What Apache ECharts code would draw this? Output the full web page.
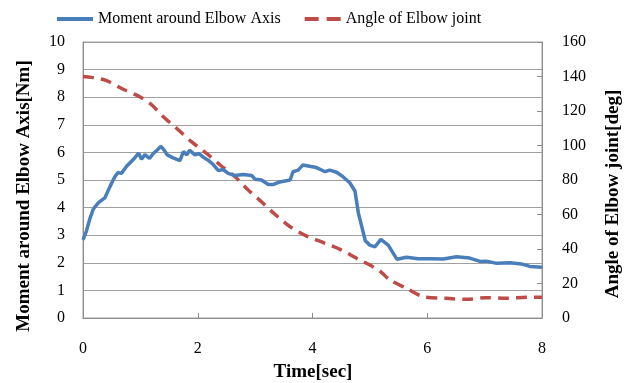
<!DOCTYPE html>
<html><head><meta charset="utf-8">
<script src="https://cdn.jsdelivr.net/npm/echarts@6/dist/echarts.min.js"></script>
<style>html,body{margin:0;padding:0;background:#fff}#c{width:628px;height:383px}</style>
</head><body><div id="c"></div>
<script>
const seriesNames = ['Moment around Elbow Axis', 'Angle of Elbow joint'];
const xTicks = [0, 2, 4, 6, 8];
const momentData = [
[0,2.83],[0.06,3.15],[0.12,3.6],[0.18,3.95],[0.27,4.18],[0.38,4.35],[0.47,4.76],[0.55,5.1],[0.61,5.27],[0.67,5.24],[0.76,5.5],[0.88,5.75],[0.97,5.97],[1.02,5.75],[1.08,5.92],[1.16,5.78],[1.22,5.95],[1.28,6.06],[1.36,6.22],[1.40,6.12],[1.47,5.91],[1.57,5.8],[1.69,5.7],[1.75,6.03],[1.81,5.91],[1.86,6.08],[1.95,5.91],[2.02,5.96],[2.10,5.82],[2.18,5.72],[2.27,5.56],[2.36,5.34],[2.44,5.38],[2.53,5.24],[2.65,5.16],[2.79,5.2],[2.94,5.16],[3.0,5.03],[3.11,5.0],[3.23,4.84],[3.32,4.84],[3.43,4.93],[3.61,5.0],[3.66,5.3],[3.75,5.36],[3.83,5.54],[3.95,5.5],[4.07,5.45],[4.22,5.3],[4.30,5.36],[4.42,5.28],[4.53,5.12],[4.65,4.9],[4.74,4.6],[4.80,3.8],[4.86,3.3],[4.92,2.8],[5.0,2.64],[5.09,2.58],[5.19,2.85],[5.32,2.64],[5.47,2.13],[5.64,2.2],[5.84,2.15],[6.05,2.15],[6.28,2.14],[6.51,2.22],[6.74,2.17],[6.92,2.05],[7.03,2.06],[7.21,1.98],[7.44,2.0],[7.64,1.96],[7.79,1.87],[8.0,1.84]
];
const angleData = [
[0,140],[0.15,139.5],[0.41,137.6],[0.70,132.6],[0.99,128.3],[1.20,123.5],[1.40,116.7],[1.63,110],[1.89,102.2],[2.15,95.5],[2.39,88.7],[2.65,81.9],[2.88,74.2],[3.11,67.4],[3.34,60.3],[3.61,52.9],[3.90,47.5],[4.19,43.7],[4.48,39.8],[4.77,34.6],[5.06,29.6],[5.2,26.5],[5.35,22],[5.64,17.2],[5.93,12.4],[6.34,11.4],[6.68,10.8],[7.03,11.8],[7.38,11.4],[7.73,12],[8.0,12]
];
const leftAxisName = 'Moment around Elbow Axis[Nm]';
const rightAxisName = 'Angle of Elbow joint[deg]';
const xAxisName = 'Time[sec]';

const FONT = '"Liberation Serif", "Times New Roman", serif';
const chart = echarts.init(document.getElementById('c'));
chart.setOption({
  animation: false,
  backgroundColor: '#fff',
  grid: {left: 83, right: 86, top: 42, bottom: 65, show: true, borderColor: '#a0a0a0', borderWidth: 1},
  legend: {
    left: 50, top: 6, itemWidth: 36, itemHeight: 14, itemGap: 22,
    itemStyle: {opacity: 0},
    textStyle: {fontFamily: FONT, fontSize: 16, color: '#000'},
    data: [
      {name: seriesNames[0], lineStyle: {width: 4}},
      {name: seriesNames[1], lineStyle: {width: 4, type: [14, 8, 14, 20]}}
    ]
  },
  graphic: [
    {type: 'text', x: 24, y: 196, rotation: Math.PI/2, style: {text: leftAxisName, font: 'bold 19px ' + FONT, fill: '#000', textAlign: 'center', textVerticalAlign: 'middle'}},
    {type: 'text', x: 613, y: 194, rotation: Math.PI/2, style: {text: rightAxisName, font: 'bold 19px ' + FONT, fill: '#000', textAlign: 'center', textVerticalAlign: 'middle'}},
    {type: 'text', x: 313, y: 372, style: {text: xAxisName, font: 'bold 19px ' + FONT, fill: '#000', textAlign: 'center', textVerticalAlign: 'middle'}}
  ],
  xAxis: {
    type: 'value', min: xTicks[0], max: xTicks[xTicks.length-1], interval: 2,
    axisLine: {lineStyle: {color: '#8c8c8c'}},
    axisTick: {inside: true, length: 5, lineStyle: {color: '#8c8c8c'}},
    axisLabel: {fontFamily: FONT, fontSize: 16, color: '#000', margin: 23},
    splitLine: {show: false}
  },
  yAxis: [
    {type: 'value', min: 0, max: 10, interval: 1,
     axisLine: {show: true, lineStyle: {color: '#8c8c8c'}},
     axisTick: {show: false},
     axisLabel: {fontFamily: FONT, fontSize: 16, color: '#000', margin: 18},
     splitLine: {show: true, lineStyle: {color: '#a0a0a0'}}},
    {type: 'value', min: 0, max: 160, interval: 20, position: 'right',
     axisLine: {show: true, lineStyle: {color: '#8c8c8c'}},
     axisTick: {show: true, inside: true, length: 5, lineStyle: {color: '#8c8c8c'}},
     axisLabel: {fontFamily: FONT, fontSize: 16, color: '#000', margin: 20},
     splitLine: {show: false}}
  ],
  series: [
    {name: seriesNames[0], type: 'line', yAxisIndex: 0, data: momentData, showSymbol: false, symbol: 'none',
     lineStyle: {color: '#4a7ebb', width: 3.5}, itemStyle: {color: '#4a7ebb'}, z: 3},
    {name: seriesNames[1], type: 'line', yAxisIndex: 1, data: angleData, showSymbol: false, symbol: 'none', smooth: 0.3,
     lineStyle: {color: '#be4b48', width: 3.5, type: [11, 7]}, itemStyle: {color: '#be4b48'}, z: 2}
  ]
});
</script></body></html>
